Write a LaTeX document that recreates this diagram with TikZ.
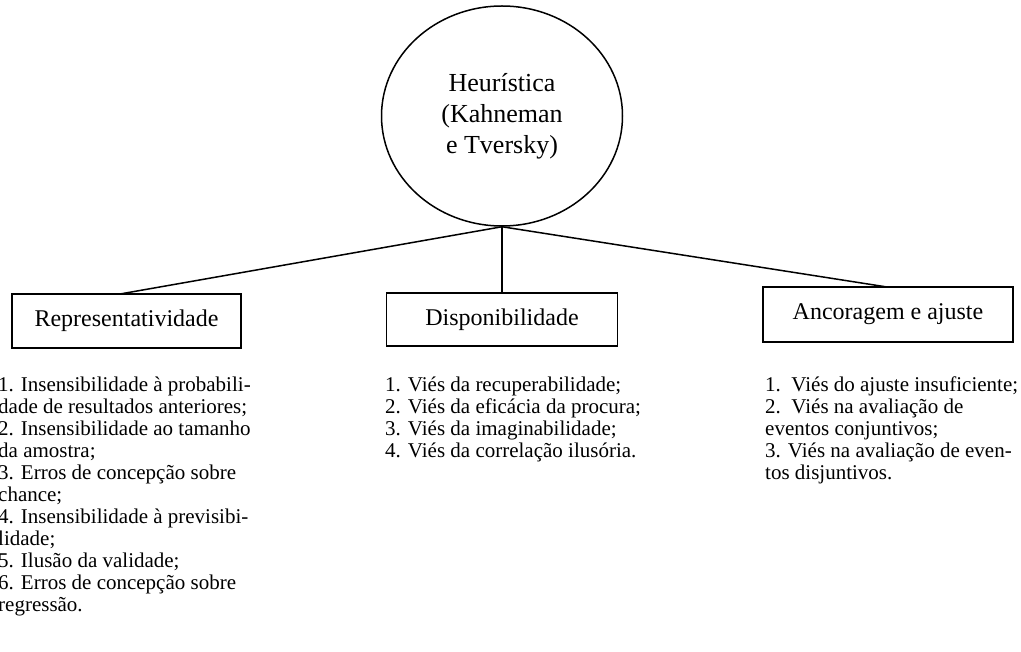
\documentclass[tikz,border=0pt]{standalone}
\usepackage{fontspec}
\setmainfont{Liberation Serif}
\usetikzlibrary{shapes.geometric}
\begin{document}
\begin{tikzpicture}[x=1pt,y=-1pt,
  link/.style={line width=1.5pt, black},
  hub/.style={ellipse, draw, line width=1.5pt, minimum width=241pt, minimum height=220pt,
    inner sep=0pt, align=center, font=\fontsize{26}{31}\selectfont},
  catbox/.style={rectangle, draw, line width=1.5pt, inner sep=0pt,
    font=\fontsize{24}{28}\selectfont},
  itemlist/.style={anchor=north west, inner sep=0pt, align=left,
    font=\fontsize{21}{22}\selectfont}]
\useasboundingbox (0,0) rectangle (1021,652);

% central heuristic
\node[hub] (heur) at (502,116) {Heurística\\(Kahneman\\e Tversky)};

% three categories
\node[catbox, minimum width=229pt, minimum height=54pt] (rep) at (126.5,321) {Representatividade};
\node[catbox, minimum width=231pt, minimum height=53pt] (disp) at (502,319.5) {Disponibilidade};
\node[catbox, minimum width=250pt, minimum height=55pt] (anc) at (888,314.5) {Ancoragem e ajuste};

% connectors from the bottom of the ellipse
\coordinate (rept) at (120,294);
\coordinate (ancat) at (887,287);
\draw[link] (heur.south) -- (rept);
\draw[link] (heur.south) -- (disp.north);
\draw[link] (heur.south) -- (ancat);

% lists of biases
\node[itemlist] (replist) at (-2,377) {1. Insensibilidade à probabili-\\
dade de resultados anteriores;\\
2. Insensibilidade ao tamanho\\
da amostra;\\
3. Erros de concepção sobre\\
chance;\\
4. Insensibilidade à previsibi-\\
lidade;\\
5. Ilusão da validade;\\
6. Erros de concepção sobre\\
regressão.};

\node[itemlist] (displist) at (385,377) {1. Viés da recuperabilidade;\\
2. Viés da eficácia da procura;\\
3. Viés da imaginabilidade;\\
4. Viés da correlação ilusória.};

\node[itemlist] (anclist) at (765,377) {1.\ \ Viés do ajuste insuficiente;\\
2.\ \ Viés na avaliação de\\
eventos conjuntivos;\\
3. Viés na avaliação de even-\\
tos disjuntivos.};
\end{tikzpicture}
\end{document}
